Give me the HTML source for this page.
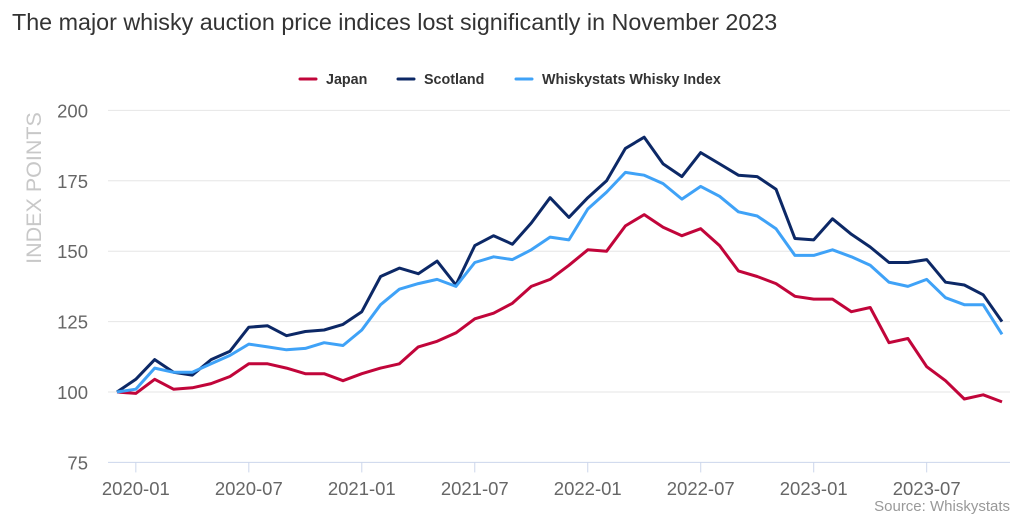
<!DOCTYPE html>
<html><head><meta charset="utf-8"><style>
body{margin:0;background:#fff;font-family:"Liberation Sans",sans-serif}
</style></head><body>
<svg width="1024" height="516" xmlns="http://www.w3.org/2000/svg" font-family="Liberation Sans, sans-serif">
<text x="12" y="30" font-size="23.3" fill="#333">The major whisky auction price indices lost significantly in November 2023</text>
<g id="legend"></g>
<text transform="translate(41,188) rotate(-90)" text-anchor="middle" font-size="21.5" fill="#c8c8c8">INDEX POINTS</text>
<g id="grid"></g><g id="xaxis"></g><g id="series"></g>
<text x="1010" y="511" text-anchor="end" font-size="15" fill="#999">Source: Whiskystats</text>
</svg>
<script>
const months=["2019-12","2020-01","2020-02","2020-03","2020-04","2020-05","2020-06","2020-07","2020-08","2020-09","2020-10","2020-11","2020-12","2021-01","2021-02","2021-03","2021-04","2021-05","2021-06","2021-07","2021-08","2021-09","2021-10","2021-11","2021-12","2022-01","2022-02","2022-03","2022-04","2022-05","2022-06","2022-07","2022-08","2022-09","2022-10","2022-11","2022-12","2023-01","2023-02","2023-03","2023-04","2023-05","2023-06","2023-07","2023-08","2023-09","2023-10","2023-11"];
const japan=[100,99.5,104.5,101,101.5,103,105.5,110,110,108.5,106.5,106.5,104,106.5,108.5,110,116,118,121,126,128,131.5,137.5,140,145,150.5,150,159,163,158.5,155.5,158,152,143,141,138.5,134,133,133,128.5,130,117.5,119,109,104,97.5,99,96.5];
const scotland=[100,104.5,111.5,107,106,111.5,114.5,123,123.5,120,121.5,122,124,128.5,141,144,142,146.5,138,152,155.5,152.5,160,169,162,169,175,186.5,190.5,181,176.5,185,181,177,176.5,172,154.5,154,161.5,156,151.5,146,146,147,139,138,134.5,125];
const whiskystats=[100,101,108.5,107,107,110,113,117,116,115,115.5,117.5,116.5,122,131,136.5,138.5,140,137.5,146,148,147,150.5,155,154,165,171,178,177,174,168.5,173,169.5,164,162.5,158,148.5,148.5,150.5,148,145,139,137.5,140,133.5,131,131,120.5];
const yTicks=[75,100,125,150,175,200];
const xTickLabels=["2020-01","2020-07","2021-01","2021-07","2022-01","2022-07","2023-01","2023-07"];
const seriesNames=["Japan","Scotland","Whiskystats Whisky Index"];
const seriesColors=["#c1053a","#0c2866","#3fa2f7"];
const NS="http://www.w3.org/2000/svg";
const x0=117,dx=18.83,xL=108,xR=1010;
const X=i=>x0+i*dx;
const Y=v=>392-(v-100)*2.816;
function mk(t,a,p){const e=document.createElementNS(NS,t);for(const k in a)e.setAttribute(k,a[k]);p.appendChild(e);return e;}
const grid=document.getElementById('grid');
yTicks.forEach(v=>{
  if(v!==75){const l=mk('line',{x1:xL,x2:xR,y1:Y(v),y2:Y(v),stroke:'#e6e6e6','stroke-width':1},grid);
  
  }
  const t=mk('text',{x:88,y:Y(v)+7,'text-anchor':'end','font-size':18.5,fill:'#666'},grid);t.textContent=v;
  
  
});
const xa=document.getElementById('xaxis');
const ax=mk('line',{x1:xL,x2:xR,y1:Y(75),y2:Y(75),stroke:'#ccd6eb','stroke-width':1},xa);


xTickLabels.forEach(lbl=>{
  const i=months.indexOf(lbl),x=X(i);
  mk('line',{x1:x,x2:x,y1:Y(75),y2:Y(75)+10,stroke:'#ccd6eb'},xa);
  const t=mk('text',{x:x,y:495,'text-anchor':'middle','font-size':18.5,fill:'#666'},xa);t.textContent=lbl;
  
  
});
const sg=document.getElementById('series');
[japan,scotland,whiskystats].forEach((d,k)=>{
  const p=mk('path',{d:d.map((v,i)=>(i?'L':'M')+X(i).toFixed(1)+' '+Y(v).toFixed(1)).join(' '),fill:'none',stroke:seriesColors[k],'stroke-width':3,'stroke-linejoin':'round'},sg);
  
  
});
const lg=document.getElementById('legend');
const lx=[300,398,516];
seriesNames.forEach((n,k)=>{
  const g=mk('g',{},lg);
  
  
  mk('line',{x1:lx[k],x2:lx[k]+16,y1:79,y2:79,stroke:seriesColors[k],'stroke-width':3,'stroke-linecap':'round'},g);
  const t=mk('text',{x:lx[k]+26,y:84,'font-size':14.3,'font-weight':'bold',fill:'#333'},g);t.textContent=n;
});
</script>
</body></html>
